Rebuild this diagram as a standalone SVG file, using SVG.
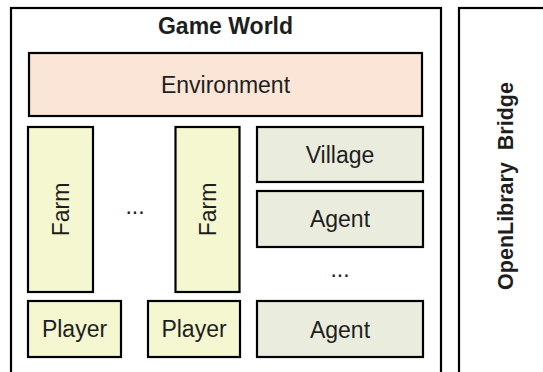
<svg xmlns="http://www.w3.org/2000/svg" width="543" height="372" viewBox="0 0 543 372">
<style>
.box{stroke:#000;stroke-width:2.2}
.frame{fill:#fff;stroke:#000;stroke-width:2.2}
.env{fill:#FBE5D7}
.farm{fill:#F5F7D1}
.vil{fill:#EAECDD}
text{font-family:"Liberation Sans",Arial,sans-serif;fill:#1e1e1e;font-size:23px;text-anchor:middle}
.b{font-weight:bold}
</style>
<rect width="543" height="372" fill="#fff"/>
<g id="game-world">
<rect class="frame" x="11" y="8" width="430" height="380"/>
<text class="b" x="225.5" y="34">Game World</text>
</g>
<g id="bridge">
<rect class="frame" x="459" y="8" width="100" height="380"/>
<text class="b" xml:space="preserve" transform="translate(513,186) rotate(-90)" style="font-size:21.5px">OpenLibrary  Bridge</text>
</g>
<g id="environment">
<rect class="box env" x="29" y="53" width="393" height="63"/>
<text x="225.5" y="93">Environment</text>
</g>
<g id="farm1">
<rect class="box farm" x="28" y="127" width="65" height="165"/>
<text transform="translate(68.5,209.5) rotate(-90)">Farm</text>
</g>
<g id="farm-dots">
<text x="135" y="214">...</text>
</g>
<g id="farm2">
<rect class="box farm" x="175.5" y="127" width="64" height="165"/>
<text transform="translate(215.5,209.5) rotate(-90)">Farm</text>
</g>
<g id="player1">
<rect class="box farm" x="28" y="301" width="93" height="56"/>
<text x="74.5" y="337">Player</text>
</g>
<g id="player2">
<rect class="box farm" x="148" y="301" width="92" height="56"/>
<text x="194" y="337">Player</text>
</g>
<g id="village">
<rect class="box vil" x="257" y="127" width="166" height="55"/>
<text x="340" y="163">Village</text>
</g>
<g id="agent1">
<rect class="box vil" x="257" y="191" width="166" height="56"/>
<text x="340" y="227">Agent</text>
</g>
<g id="agent-dots">
<text x="340" y="277">...</text>
</g>
<g id="agent2">
<rect class="box vil" x="257" y="301" width="166" height="56"/>
<text x="340" y="338">Agent</text>
</g>
<g id="connectors"></g>
</svg>
